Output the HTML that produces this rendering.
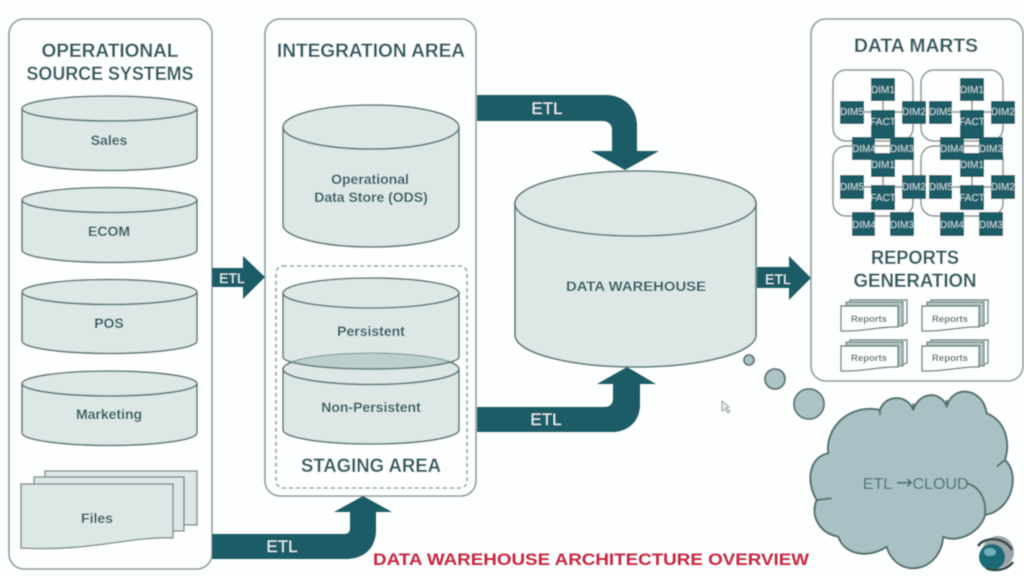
<!DOCTYPE html>
<html><head><meta charset="utf-8"><title>Data Warehouse Architecture Overview</title>
<style>
html,body{margin:0;padding:0;background:#fdfefe}
svg{display:block;width:1024px;height:576px}
text{font-family:"Liberation Sans",sans-serif;text-anchor:middle}
.h{font-weight:700;font-size:19.5px;fill:#2e5a60}
.l{font-weight:700;font-size:14px;fill:#2e5a60}
.e{font-size:17px;fill:#e8f3f3}
.d{font-size:10px;fill:#c3d9da}
.r{font-weight:700;font-size:9.5px;fill:#55706f}
.p{fill:#fdfefe;stroke:#8c9a9b;stroke-width:1.6}
.c{fill:#dce7e6;stroke:#5c7876;stroke-width:1.6}
.b{fill:#1f5c66}
.s{fill:#fdfefe;stroke:#6c8280;stroke-width:1.4}
.s2{fill:#dce7e6;stroke:#6c8280;stroke-width:1.3}
.s3{fill:#b4c4c4;stroke:#6c8280;stroke-width:1.3}
</style></head><body>
<svg viewBox="0 0 1024 576" xmlns="http://www.w3.org/2000/svg">
<defs>
<filter id="soft" x="-2%" y="-2%" width="104%" height="104%"><feGaussianBlur stdDeviation="0.45"/></filter>
<clipPath id="npTop"><ellipse cx="371" cy="369" rx="88" ry="15.500"/></clipPath>
<g id="rep">
<path class="s" d="M9 0H66V23L60 25V3H9Z"/>
<path class="s3" d="M5 2H62V26H57V6H5Z"/>
<path class="s" d="M0 6H57V27C40 26 22 32 0 31Z"/>
</g>
</defs>
<g filter="url(#soft)">
<!-- panels -->
<rect class="p" x="9" y="19" width="203" height="550" rx="15"/>
<rect class="p" x="265" y="19" width="211" height="477" rx="15"/>
<rect class="p" x="811" y="19" width="212" height="362" rx="15"/>
<rect x="276" y="266" width="191" height="222" rx="7" fill="none" stroke="#74838a" stroke-width="1.3" stroke-dasharray="4 3"/>

<!-- left cylinders -->
<path class="c" d="M22 109V158A87.500 12.500 0 0 0 197 158V109Z"/><ellipse class="c" cx="109.500" cy="108.500" rx="87.500" ry="12.500"/>
<path class="c" d="M22 200V250A87.500 12.500 0 0 0 197 250V200Z"/><ellipse class="c" cx="109.500" cy="200" rx="87.500" ry="12.500"/>
<path class="c" d="M22 292V341A87.500 12.500 0 0 0 197 341V292Z"/><ellipse class="c" cx="109.500" cy="292" rx="87.500" ry="12.500"/>
<path class="c" d="M22 384V433A87.500 12.500 0 0 0 197 433V384Z"/><ellipse class="c" cx="109.500" cy="383.500" rx="87.500" ry="12.500"/>
<text class="l" x="109" y="145">Sales</text>
<text class="l" x="109" y="236">ECOM</text>
<text class="l" x="109" y="328">POS</text>
<text class="l" x="109" y="419">Marketing</text>

<!-- files -->
<path class="s2" d="M45 471H197V525H45Z"/>
<path class="s2" d="M34 477H184V531H34Z"/>
<path class="s2" d="M21 484H173V538C130 536 90 552 21 548Z"/>
<text class="l" x="97" y="523">Files</text>

<!-- ODS -->
<path class="c" d="M283 127V225A88 22 0 0 0 459 225V127Z"/><ellipse class="c" cx="371" cy="127" rx="88" ry="22"/>
<text class="l" x="370" y="184">Operational</text>
<text class="l" x="371" y="202">Data Store (ODS)</text>

<!-- staging cylinders -->
<path class="c" d="M283 293V357A88 12 0 0 0 459 357V293Z"/><ellipse class="c" cx="371" cy="293" rx="88" ry="15"/>
<path class="c" d="M283 369V430A88 14 0 0 0 459 430V369Z"/><ellipse class="c" cx="371" cy="369" rx="88" ry="15.500"/>
<ellipse cx="371" cy="357" rx="88" ry="12" fill="#bccfcf" stroke="#5c7876" stroke-width="1.6" clip-path="url(#npTop)"/>
<text class="l" x="371" y="336">Persistent</text>
<text class="l" x="371" y="412">Non-Persistent</text>

<!-- DW -->
<path class="c" d="M515 203V335A120.500 32 0 0 0 756 335V203Z"/><ellipse class="c" cx="635.500" cy="203.500" rx="120.500" ry="32.500"/>
<text class="l" x="636" y="291" textLength="140" lengthAdjust="spacingAndGlyphs">DATA WAREHOUSE</text>

<!-- arrows -->
<path class="b" d="M477 95H606C624 95 637 108 637 126V151H659L625 170L591 151H612V130C612 124 608 121 602 121H477Z"/>
<path class="b" d="M477 407H604C610 407 613 404 613 398V384H597L627 367L656 384H640V405C640 421 628 432 612 432H477Z"/>
<path class="b" d="M212 534H344C348 534 350 532 350 528V512H334L363 496L392 512H376V530C376 548 364 559 346 559H212Z"/>
<path class="b" d="M212 268H243V256L265 277L243 299V287H212Z"/>
<path class="b" d="M757 267H789V256L811 278L789 300V288H757Z"/>
<text class="e" x="547" y="114">ETL</text>
<text class="e" x="546" y="425">ETL</text>
<text class="e" x="282" y="552">ETL</text>
<text class="e" x="232" y="283" style="font-size:14px">ETL</text>
<text class="e" x="778" y="284" style="font-size:14px">ETL</text>

<!-- data marts groups -->
<g fill="none" stroke="#87908f" stroke-width="1.5">
<rect x="833" y="70" width="80" height="71" rx="13"/>
<rect x="921" y="70" width="82" height="71" rx="13"/>
<rect x="833" y="146" width="80" height="70" rx="13"/>
<rect x="921" y="146" width="82" height="70" rx="13"/>
<path d="M864 112H871M895 112H902M883 101V110M972 101V110M952 112H960M984 112H991M864 187H871M895 187H902M883 177V185M972 177V185M952 187H960M984 187H991"/>
</g>
<g class="b">
<rect x="871" y="78" width="24" height="23"/><rect x="840" y="101" width="24" height="23"/><rect x="902" y="101" width="24" height="23"/><rect x="871" y="110" width="24" height="29"/><rect x="852" y="137" width="23" height="23"/><rect x="890" y="137" width="24" height="23"/>
<rect x="960" y="78" width="24" height="23"/><rect x="929" y="101" width="23" height="23"/><rect x="991" y="101" width="24" height="23"/><rect x="960" y="110" width="24" height="29"/><rect x="940" y="137" width="24" height="23"/><rect x="979" y="137" width="24" height="23"/>
<rect x="871" y="153" width="24" height="24"/><rect x="840" y="175" width="24" height="24"/><rect x="902" y="175" width="24" height="24"/><rect x="871" y="185" width="24" height="25"/><rect x="852" y="212" width="23" height="24"/><rect x="890" y="212" width="24" height="24"/>
<rect x="960" y="153" width="24" height="24"/><rect x="929" y="175" width="23" height="24"/><rect x="991" y="175" width="24" height="24"/><rect x="960" y="185" width="24" height="25"/><rect x="940" y="212" width="24" height="24"/><rect x="979" y="212" width="24" height="24"/>
</g>
<text class="d" x="883" y="93">DIM1</text><text class="d" x="852" y="115">DIM5</text><text class="d" x="914" y="115">DIM2</text><text class="d" x="883" y="125">FACT</text><text class="d" x="864" y="152">DIM4</text><text class="d" x="902" y="152">DIM3</text>
<text class="d" x="972" y="93">DIM1</text><text class="d" x="941" y="115">DIM5</text><text class="d" x="1003" y="115">DIM2</text><text class="d" x="972" y="125">FACT</text><text class="d" x="952" y="152">DIM4</text><text class="d" x="991" y="152">DIM3</text>
<text class="d" x="883" y="168">DIM1</text><text class="d" x="852" y="190">DIM5</text><text class="d" x="914" y="190">DIM2</text><text class="d" x="883" y="201">FACT</text><text class="d" x="864" y="228">DIM4</text><text class="d" x="902" y="228">DIM3</text>
<text class="d" x="972" y="168">DIM1</text><text class="d" x="941" y="190">DIM5</text><text class="d" x="1003" y="190">DIM2</text><text class="d" x="972" y="201">FACT</text><text class="d" x="952" y="228">DIM4</text><text class="d" x="991" y="228">DIM3</text>

<!-- reports -->
<use href="#rep" x="841" y="300"/><use href="#rep" x="922" y="300"/><use href="#rep" x="841" y="340"/><use href="#rep" x="922" y="340"/>
<text class="r" x="869" y="322">Reports</text><text class="r" x="950" y="322">Reports</text><text class="r" x="869" y="361">Reports</text><text class="r" x="950" y="361">Reports</text>

<!-- bubbles -->
<g fill="#adc3c6" stroke="#5c7876" stroke-width="1.8">
<circle cx="749" cy="360" r="5"/><circle cx="775" cy="379" r="10"/><circle cx="809" cy="404" r="15"/>
</g>
<!-- cloud -->
<g transform="translate(810 240) scale(.3333)">
<path fill="#a9c1c4" stroke="#55716f" stroke-width="6" stroke-linejoin="round" d="M55 640C45 570 110 490 210 510C225 465 290 460 310 510C330 450 395 455 410 500C430 430 520 445 530 520C590 545 600 610 585 660C630 700 610 810 525 825C510 880 440 910 400 890C390 1000 260 1020 230 920C170 960 100 940 85 890C30 880 0 830 20 780C-15 720 0 650 55 640Z"/>
<path fill="none" stroke="#55716f" stroke-width="6" d="M470 730C510 740 530 780 525 825M560 680L585 660M20 780L65 775M210 510V525M310 510V490M410 500V480"/>
</g>
<text style="font-size:16px;fill:#4a7074" y="489"><tspan x="877.500">ETL</tspan><tspan x="904.500" style="font-family:'DejaVu Sans',sans-serif;font-size:20px">→</tspan><tspan x="940.500">CLOUD</tspan></text>

<!-- headings -->
<text class="h" x="110" y="57" textLength="137" lengthAdjust="spacingAndGlyphs">OPERATIONAL</text>
<text class="h" x="110" y="80" textLength="167" lengthAdjust="spacingAndGlyphs">SOURCE SYSTEMS</text>
<text class="h" x="371" y="57" textLength="188" lengthAdjust="spacingAndGlyphs">INTEGRATION AREA</text>
<text class="h" x="916" y="52" textLength="124" lengthAdjust="spacingAndGlyphs">DATA MARTS</text>
<text class="h" x="915" y="264" textLength="88" lengthAdjust="spacingAndGlyphs">REPORTS</text>
<text class="h" x="915" y="287" textLength="123" lengthAdjust="spacingAndGlyphs">GENERATION</text>
<text class="h" x="371" y="472" textLength="140" lengthAdjust="spacingAndGlyphs">STAGING AREA</text>
<text x="591" y="565" style="font-weight:700;font-size:17px;fill:#c8283f" textLength="436" lengthAdjust="spacingAndGlyphs">DATA WAREHOUSE ARCHITECTURE OVERVIEW</text>

<!-- cursor -->
<path d="M722 401L722 411L725 409L728 413L730 411L726 408L729 407Z" fill="#e9eeee" stroke="#7d8a8a" stroke-width=".8"/>
<!-- globe -->
<circle cx="998" cy="552" r="16" fill="#9aa5a8"/>
<circle cx="992" cy="557" r="13" fill="#1d6b78"/>
<ellipse cx="990" cy="552" rx="6" ry="4" fill="#6fb0b8"/>
<path d="M978 546C985 536 1005 537 1012 550" fill="none" stroke="#39484c" stroke-width="2.500"/>
<path d="M986 568C995 572 1007 570 1013 562" fill="none" stroke="#39484c" stroke-width="2.500"/>
</g>
</svg>
</body></html>
